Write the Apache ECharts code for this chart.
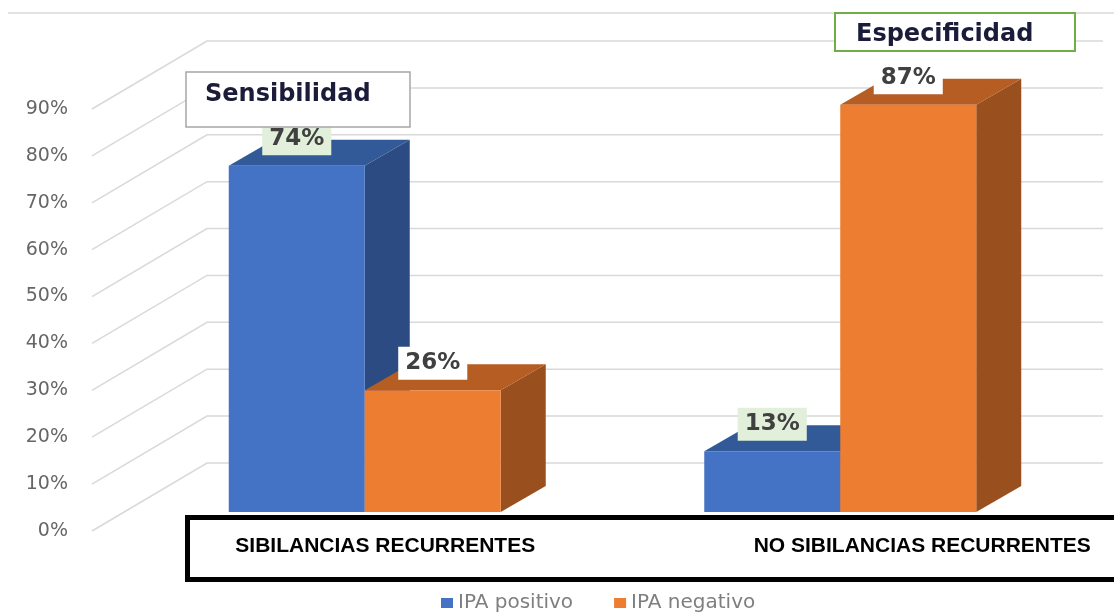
<!DOCTYPE html>
<html>
<head>
<meta charset="utf-8">
<script src="https://cdn.jsdelivr.net/npm/echarts@6/dist/echarts.min.js"></script>
<style>
  html, body { margin: 0; padding: 0; background: #fff; }
  #chart { width: 1114px; height: 614px; }
</style>
</head>
<body>
<div id="chart"></div>
<script>
// datos
var categories = ['SIBILANCIAS RECURRENTES', 'NO SIBILANCIAS RECURRENTES'];
var seriesNames = ['IPA positivo', 'IPA negativo'];
var ipaPositivo = [74, 13];
var ipaNegativo = [26, 87];
var yTicks = [0, 10, 20, 30, 40, 50, 60, 70, 80, 90];
var notas = ['Sensibilidad', 'Especificidad'];

// estilo 3D (profundidad de barra y de pared)
var depth = [45, -26];
var wallDepth = [115, -68];
var barFrac = 0.286;
var colores = [
  { front: '#4472c4', top: '#325a98', side: '#2c4b82' },
  { front: '#ed7d31', top: '#b55d22', side: '#9a4f1e' }
];
// fondo de las etiquetas de valor [serie][categoria]
var labelBg = [['#e2efda', '#e2efda'], ['#ffffff', '#ffffff']];

var chart = echarts.init(document.getElementById('chart'));

function barRender(sIdx) {
  return function (params, api) {
    var cat = api.value(0), val = api.value(1);
    var base = api.coord([cat, 0]);
    var top = api.coord([cat, val]);
    var w = api.size([1, 0])[0] * barFrac;
    var x0 = sIdx === 0 ? base[0] - w : base[0];
    var x1 = x0 + w;
    var yb = base[1], yt = top[1];
    var dx = depth[0], dy = depth[1];
    var c = colores[sIdx];
    return {
      type: 'group',
      children: [
        { type: 'polygon', shape: { points: [[x1, yt], [x1 + dx, yt + dy], [x1 + dx, yb + dy], [x1, yb]] },
          style: { fill: c.side } },
        { type: 'polygon', shape: { points: [[x0, yt], [x1, yt], [x1 + dx, yt + dy], [x0 + dx, yt + dy]] },
          style: { fill: c.top } },
        { type: 'rect', shape: { x: x0, y: yt, width: w, height: yb - yt },
          style: { fill: c.front } },
        { type: 'text', x: x0 + w / 2, y: yt + dy - 1, z2: 10,
          style: {
            text: val + '%', align: 'center', verticalAlign: 'middle',
            font: 'bold 23px "DejaVu Sans"', fill: '#404040',
            backgroundColor: labelBg[sIdx][params.dataIndex], padding: [5, 7]
          } }
      ]
    };
  };
}

function wallRender(params, api) {
  var p = api.coord([0, api.value(1)]);
  var right = params.coordSys.x + params.coordSys.width;
  return {
    type: 'polyline',
    shape: { points: [[p[0], p[1]], [p[0] + wallDepth[0], p[1] + wallDepth[1]], [right, p[1] + wallDepth[1]]] },
    style: { stroke: '#d9d9d9', lineWidth: 1.5, fill: null }
  };
}

var option = {
  animation: false,
  backgroundColor: '#fff',
  grid: [
    { left: 127, right: 36, top: 44, bottom: 102, outerBoundsMode: 'none' },
    { left: 92, right: 11, top: 109, bottom: 83, outerBoundsMode: 'none' }
  ],
  xAxis: [
    {
      type: 'category', gridIndex: 0, data: categories,
      axisLine: { show: false }, axisTick: { show: false },
      axisLabel: {
        interval: 0, margin: 24,
        formatter: function (v, i) { return '{c' + i + '|' + v + '}'; },
        rich: {
          c0: { padding: [0, 0, 0, 41], fontFamily: 'Liberation Sans', fontWeight: 'bold', fontSize: 21, color: '#000' },
          c1: { padding: [0, 0, 0, 164], fontFamily: 'Liberation Sans', fontWeight: 'bold', fontSize: 21, color: '#000' }
        }
      }
    },
    { type: 'value', gridIndex: 1, min: 0, max: 1, show: false }
  ],
  yAxis: [
    { type: 'value', gridIndex: 0, min: 0, max: 100, show: false },
    {
      type: 'value', gridIndex: 1, min: 0, max: 90, interval: 10,
      axisLine: { show: false }, axisTick: { show: false }, splitLine: { show: false },
      axisLabel: { formatter: '{value}%', margin: 24, fontFamily: 'DejaVu Sans', fontSize: 19, color: '#666666' }
    }
  ],
  legend: {
    data: seriesNames, top: 593, left: 441, padding: 0,
    icon: 'rect', itemWidth: 12, itemHeight: 10, itemGap: 41,
    textStyle: { fontFamily: 'DejaVu Sans', fontSize: 20, color: '#7f7f7f' }
  },
  graphic: [
    { type: 'line', shape: { x1: 8, y1: 13, x2: 1114, y2: 13 }, style: { stroke: '#d9d9d9', lineWidth: 1.5 }, z: 0 },
    { type: 'rect', shape: { x: 187.5, y: 517.5, width: 960, height: 62 },
      style: { fill: 'transparent', stroke: '#000', lineWidth: 5 }, z: 100 },
    { type: 'rect', shape: { x: 186, y: 72, width: 224, height: 55 },
      style: { fill: '#fff', stroke: '#a6a6a6', lineWidth: 1.5 }, z: 100 },
    { type: 'text', x: 205, y: 95, z: 101,
      style: { text: notas[0], font: 'bold 24px "DejaVu Sans"', fill: '#1b1b3a', verticalAlign: 'middle' } },
    { type: 'rect', shape: { x: 835, y: 13, width: 240, height: 38 },
      style: { fill: '#fff', stroke: '#70ad47', lineWidth: 2 }, z: 100 },
    { type: 'text', x: 856, y: 35, z: 101,
      style: { text: notas[1], font: 'bold 24px "DejaVu Sans"', fill: '#1b1b3a', verticalAlign: 'middle' } }
  ],
  series: [
    {
      type: 'custom', xAxisIndex: 1, yAxisIndex: 1, silent: true, clip: false, z: 1,
      renderItem: wallRender,
      data: yTicks.map(function (v) { return [0, v]; })
    },
    {
      name: seriesNames[0], type: 'custom', xAxisIndex: 0, yAxisIndex: 0, clip: false, z: 3,
      itemStyle: { color: colores[0].front },
      encode: { x: 0, y: 1 },
      renderItem: barRender(0),
      data: ipaPositivo.map(function (v, i) { return [i, v]; })
    },
    {
      name: seriesNames[1], type: 'custom', xAxisIndex: 0, yAxisIndex: 0, clip: false, z: 4,
      itemStyle: { color: colores[1].front },
      encode: { x: 0, y: 1 },
      renderItem: barRender(1),
      data: ipaNegativo.map(function (v, i) { return [i, v]; })
    }
  ]
};

option && chart.setOption(option);
</script>
</body>
</html>
